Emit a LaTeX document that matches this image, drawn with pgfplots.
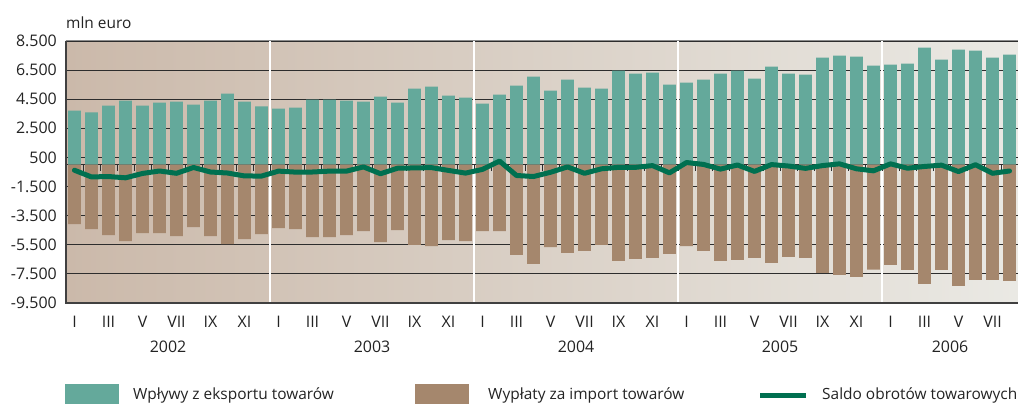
\documentclass[border=0pt]{standalone}
\usepackage{pgfplots}
\pgfplotsset{compat=1.18}
\usepackage{fontspec}
\setmainfont{Open Sans}
\definecolor{expc}{RGB}{100,169,155}
\definecolor{impc}{RGB}{165,135,109}
\definecolor{salc}{RGB}{0,112,80}
\definecolor{bgL}{RGB}{203,185,170}
\definecolor{bgR}{RGB}{234,233,228}
\definecolor{gridc}{RGB}{45,45,45}
\definecolor{txt}{RGB}{35,35,35}
\begin{document}
\begin{tikzpicture}[x=1bp,y=1bp]
\begin{axis}[
 scale only axis, width=952bp, height=262bp,
 xmin=-0.5, xmax=55.5, ymin=-9500, ymax=8500,
 enlargelimits=false, clip=false,
 axis line style={draw=none},
 axis background/.style={left color=bgL, right color=bgR},
 ymajorgrids, grid style={gridc, line width=0.8bp},
 ytick={-9500,-7500,...,8500},
 yticklabels={-9.500,-7.500,-5.500,-3.500,-1.500,500,2.500,4.500,6.500,8.500},
 xtick={0,2,...,54},
 xticklabels={I,III,V,VII,IX,XI,I,III,V,VII,IX,XI,I,III,V,VII,IX,XI,I,III,V,VII,IX,XI,I,III,V,VII},
 major tick length=0pt,
 yticklabel style={font=\fontsize{16}{18}\selectfont, anchor=east, inner sep=0pt, xshift=-9bp, text=txt},
 xticklabel style={font=\fontsize{16}{18}\selectfont, anchor=base, inner sep=0pt, yshift=-24bp, text=txt},
 ybar, bar width=0.75, bar shift=0pt,
]
\draw[white, line width=1.5bp] (axis cs:11.5,-9500) -- (axis cs:11.5,8500);
\draw[white, line width=1.5bp] (axis cs:23.5,-9500) -- (axis cs:23.5,8500);
\draw[white, line width=1.5bp] (axis cs:35.5,-9500) -- (axis cs:35.5,8500);
\draw[white, line width=1.5bp] (axis cs:47.5,-9500) -- (axis cs:47.5,8500);
\draw[gridc, line width=0.8bp] (axis cs:-0.5,0) -- (axis cs:55.5,0);
\pgfplotsinvokeforeach{0,...,54}{\draw[gridc, line width=0.8bp] (axis cs:#1.5,0) -- ++(0bp,-6bp);}
\addplot[fill=expc, draw=none] coordinates {
(0,3725) (1,3588) (2,4068) (3,4411) (4,4068) (5,4274) (6,4342) (7,4137) (8,4411) (9,4891) (10,4342) (11,4000)
(12,3862) (13,3931) (14,4480) (15,4480) (16,4411) (17,4342) (18,4685) (19,4274) (20,5234) (21,5371) (22,4754) (23,4617)
(24,4205) (25,4823) (26,5440) (27,6057) (28,5097) (29,5852) (30,5303) (31,5234) (32,6469) (33,6263) (34,6332) (35,5509)
(36,5646) (37,5852) (38,6263) (39,6469) (40,5920) (41,6743) (42,6263) (43,6195) (44,7361) (45,7498) (46,7429) (47,6812)
(48,6881) (49,6949) (50,8047) (51,7224) (52,7910) (53,7841) (54,7361) (55,7567)
};
\addplot[fill=impc, draw=none] coordinates {
(0,-4075) (1,-4418) (2,-4829) (3,-5241) (4,-4692) (5,-4692) (6,-4898) (7,-4281) (8,-4898) (9,-5447) (10,-5104) (11,-4761)
(12,-4349) (13,-4418) (14,-4966) (15,-4966) (16,-4829) (17,-4555) (18,-5310) (19,-4486) (20,-5515) (21,-5584) (22,-5172) (23,-5241)
(24,-4555) (25,-4555) (26,-6201) (27,-6819) (28,-5653) (29,-6064) (30,-5927) (31,-5515) (32,-6613) (33,-6476) (34,-6407) (35,-6133)
(36,-5584) (37,-5927) (38,-6613) (39,-6544) (40,-6407) (41,-6750) (42,-6339) (43,-6407) (44,-7436) (45,-7573) (46,-7711) (47,-7203)
(48,-6887) (49,-7230) (50,-8191) (51,-7230) (52,-8328) (53,-7916) (54,-7916) (55,-7985)
};
\addplot[sharp plot, draw=salc, line width=5bp, line join=round, line cap=round, mark=none] coordinates {
(0,-380) (1,-840) (2,-810) (3,-900) (4,-600) (5,-430) (6,-590) (7,-190) (8,-500) (9,-570) (10,-770) (11,-780)
(12,-440) (13,-508) (14,-500) (15,-440) (16,-440) (17,-150) (18,-620) (19,-240) (20,-220) (21,-200) (22,-391) (23,-576)
(24,-320) (25,250) (26,-740) (27,-810) (28,-520) (29,-150) (30,-590) (31,-280) (32,-180) (33,-180) (34,-60) (35,-560)
(36,150) (37,20) (38,-300) (39,-20) (40,-460) (41,10) (42,-90) (43,-250) (44,-60) (45,60) (46,-280) (47,-420)
(48,60) (49,-240) (50,-120) (51,-30) (52,-470) (53,0) (54,-590) (55,-430)
};
\draw[black!75, line width=1.2bp] (rel axis cs:0,1) -- (rel axis cs:0,0) -- (rel axis cs:1,0);
\draw[black!45, line width=1bp] (rel axis cs:0,1) -- (rel axis cs:1,1);
\node[anchor=base, inner sep=0pt, text=txt, font=\fontsize{16}{18}\selectfont, yshift=-49bp] at (axis cs:5.5,-9500) {2002};
\node[anchor=base, inner sep=0pt, text=txt, font=\fontsize{16}{18}\selectfont, yshift=-49bp] at (axis cs:17.5,-9500) {2003};
\node[anchor=base, inner sep=0pt, text=txt, font=\fontsize{16}{18}\selectfont, yshift=-49bp] at (axis cs:29.5,-9500) {2004};
\node[anchor=base, inner sep=0pt, text=txt, font=\fontsize{16}{18}\selectfont, yshift=-49bp] at (axis cs:41.5,-9500) {2005};
\node[anchor=base, inner sep=0pt, text=txt, font=\fontsize{16}{18}\selectfont, yshift=-49bp] at (axis cs:51.5,-9500) {2006};
\end{axis}
\node[anchor=base west, inner sep=0pt, text=txt, font=\fontsize{15.5}{18}\selectfont] at (0,275) {mln euro};
\fill[expc] (-1,-81) rectangle (53,-101);
\fill[impc] (349,-81) rectangle (403,-101);
\draw[salc, line width=5bp] (694,-92) -- (740,-92);
\node[anchor=base west, inner sep=0pt, text=txt, font=\fontsize{15.5}{18}\selectfont] at (67,-96.5) {Wpływy z eksportu towarów};
\node[anchor=base west, inner sep=0pt, text=txt, font=\fontsize{15.5}{18}\selectfont] at (422,-96.5) {Wypłaty za import towarów};
\node[anchor=base west, inner sep=0pt, text=txt, font=\fontsize{15.5}{18}\selectfont] at (756,-96.5) {Saldo obrotów towarowych};
\pgfresetboundingbox
\path (-66,-101) rectangle (952,303);
\end{tikzpicture}
\end{document}
